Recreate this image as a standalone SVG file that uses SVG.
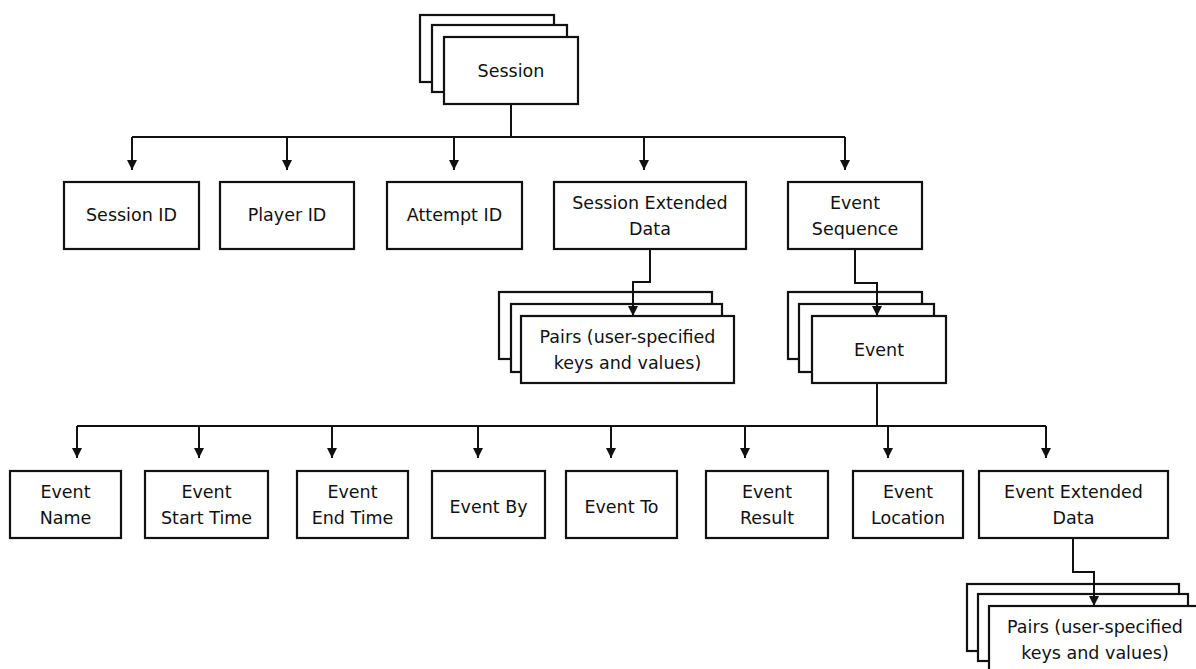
<svg xmlns="http://www.w3.org/2000/svg" width="1196" height="669" viewBox="0 0 1196 669">
<style>
.b{fill:#fff;stroke:#111;stroke-width:2.2}
.t{font-family:"DejaVu Sans",sans-serif;font-size:17.5px;fill:#111;text-anchor:middle}
.c{fill:none;stroke:#111;stroke-width:2}
</style>
<defs>
<marker id="ah" markerUnits="userSpaceOnUse" markerWidth="12" markerHeight="12" refX="10" refY="6" orient="auto">
<path d="M0,1 L10,6 L0,11 z" fill="#111"/>
</marker>
</defs>
<rect width="1196" height="669" fill="#fff"/>
<g id="connectors">
<path class="c" d="M511 104 V137"/>
<path class="c" d="M132 137 H845"/>
<path class="c" d="M132 137 V170" marker-end="url(#ah)"/>
<path class="c" d="M287 137 V170" marker-end="url(#ah)"/>
<path class="c" d="M454 137 V170" marker-end="url(#ah)"/>
<path class="c" d="M644 137 V170" marker-end="url(#ah)"/>
<path class="c" d="M845 137 V170" marker-end="url(#ah)"/>
<path class="c" d="M877 383 V426"/>
<path class="c" d="M77 426 H1046"/>
<path class="c" d="M77 426 V458" marker-end="url(#ah)"/>
<path class="c" d="M199 426 V458" marker-end="url(#ah)"/>
<path class="c" d="M332 426 V458" marker-end="url(#ah)"/>
<path class="c" d="M478 426 V458" marker-end="url(#ah)"/>
<path class="c" d="M611 426 V458" marker-end="url(#ah)"/>
<path class="c" d="M745 426 V458" marker-end="url(#ah)"/>
<path class="c" d="M888 426 V458" marker-end="url(#ah)"/>
<path class="c" d="M1046 426 V458" marker-end="url(#ah)"/>
</g>
<g id="session">
<rect class="b" x="420" y="15" width="134" height="67"/>
<rect class="b" x="432" y="25" width="135" height="67"/>
<rect class="b" x="444" y="37" width="134" height="67"/>
<text class="t" x="511" y="77">Session</text>
</g>
<g id="session-id"><rect class="b" x="64" y="182" width="135" height="67"/><text class="t" x="131.5" y="221">Session ID</text></g>
<g id="player-id"><rect class="b" x="220" y="182" width="134" height="67"/><text class="t" x="287" y="221">Player ID</text></g>
<g id="attempt-id"><rect class="b" x="387" y="182" width="135" height="67"/><text class="t" x="454.5" y="221">Attempt ID</text></g>
<g id="session-extended-data"><rect class="b" x="554" y="182" width="192" height="67"/><text class="t" x="650" y="209">Session Extended</text><text class="t" x="650" y="235">Data</text></g>
<g id="event-sequence"><rect class="b" x="788" y="182" width="134" height="67"/><text class="t" x="855" y="209">Event</text><text class="t" x="855" y="235">Sequence</text></g>
<g id="session-pairs">
<rect class="b" x="499" y="292" width="213" height="67"/>
<rect class="b" x="511" y="304" width="211" height="68"/>
<rect class="b" x="521" y="316" width="213" height="67"/>
<text class="t" x="627.5" y="343">Pairs (user-specified</text>
<text class="t" x="627.5" y="369">keys and values)</text>
</g>
<g id="event">
<rect class="b" x="788" y="292" width="134" height="67"/>
<rect class="b" x="799" y="304" width="135" height="68"/>
<rect class="b" x="812" y="316" width="134" height="67"/>
<text class="t" x="879" y="356">Event</text>
</g>
<g id="event-name"><rect class="b" x="10" y="471" width="111" height="67"/><text class="t" x="65.5" y="498">Event</text><text class="t" x="65.5" y="524">Name</text></g>
<g id="event-start-time"><rect class="b" x="145" y="471" width="123" height="67"/><text class="t" x="206.5" y="498">Event</text><text class="t" x="206.5" y="524">Start Time</text></g>
<g id="event-end-time"><rect class="b" x="297" y="471" width="111" height="67"/><text class="t" x="352.5" y="498">Event</text><text class="t" x="352.5" y="524">End Time</text></g>
<g id="event-by"><rect class="b" x="432" y="471" width="113" height="67"/><text class="t" x="488.5" y="513">Event By</text></g>
<g id="event-to"><rect class="b" x="566" y="471" width="111" height="67"/><text class="t" x="621.5" y="513">Event To</text></g>
<g id="event-result"><rect class="b" x="706" y="471" width="122" height="67"/><text class="t" x="767" y="498">Event</text><text class="t" x="767" y="524">Result</text></g>
<g id="event-location"><rect class="b" x="853" y="471" width="110" height="67"/><text class="t" x="908" y="498">Event</text><text class="t" x="908" y="524">Location</text></g>
<g id="event-extended-data"><rect class="b" x="979" y="471" width="189" height="67"/><text class="t" x="1073.5" y="498">Event Extended</text><text class="t" x="1073.5" y="524">Data</text></g>
<g id="event-pairs">
<rect class="b" x="967" y="584" width="212" height="67"/>
<rect class="b" x="978" y="594" width="210" height="67"/>
<rect class="b" x="989" y="606" width="213" height="67"/>
<text class="t" x="1095" y="633">Pairs (user-specified</text>
<text class="t" x="1095" y="659">keys and values)</text>
</g>
<g id="connectors-links">
<path class="c" d="M650 249 V282 H633 V316" marker-end="url(#ah)"/>
<path class="c" d="M855 249 V283 H877 V316" marker-end="url(#ah)"/>
<path class="c" d="M1073 538 V572 H1094 V606" marker-end="url(#ah)"/>
</g>
</svg>
